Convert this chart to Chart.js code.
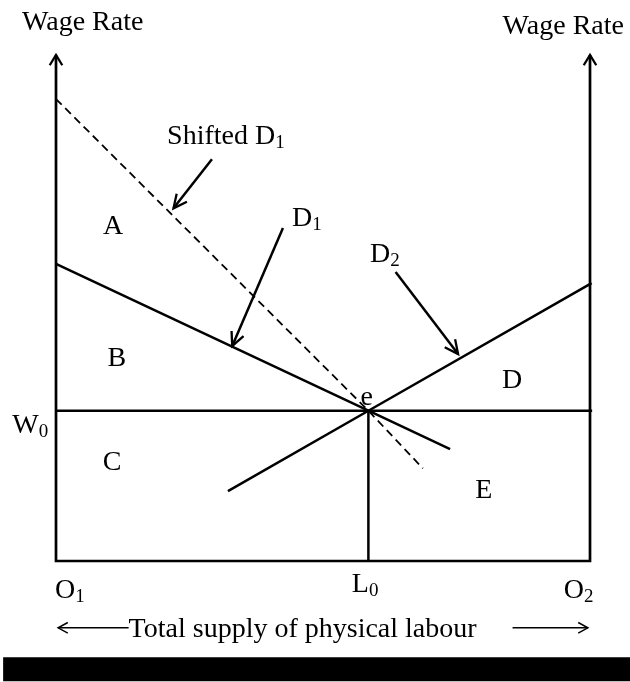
<!DOCTYPE html>
<html>
<head>
<meta charset="utf-8">
<script src="https://cdn.jsdelivr.net/npm/chart.js@4.4.1/dist/chart.umd.min.js"></script>
<style>
  html, body { margin: 0; padding: 0; background: #fff; }
  #wrap { width: 630px; height: 682px; position: relative; }
</style>
</head>
<body>
<div id="wrap"><canvas id="chart"></canvas></div>
<script>
// ============================================================================
// Two-sector labour market diagram (wage rate vs labour)
// ============================================================================

const SERIF = '"Liberation Serif", "Times New Roman", serif';

// equilibrium point e
const L0 = 58.5;
const W0 = 29.7;

// demand curves
const d1X      = [0, L0, 73.8];
const d1Y      = [58.7, W0, 22.1];
const d2X      = [32.2, L0, 100.3];
const d2Y      = [13.8, W0, 54.9];
const shiftedX = [0, L0, 68.7];
const shiftedY = [91.3, W0, 18.3];

// wage line and L0 drop line
const wageX = [0, 100.4];
const wageY = [W0, W0];
const l0X   = [L0, L0];
const l0Y   = [0, W0];

// frame: left axis, bottom, right axis
const frameX = [0, 0, 100, 100];
const frameY = [100, 0, 0, 100];

// pointer arrows (start -> tip)
const ptrShiftX = [29.2, 22.0];
const ptrShiftY = [79.4, 69.7];
const ptrD1X    = [42.5, 33.0];
const ptrD1Y    = [65.8, 42.5];
const ptrD2X    = [63.6, 75.3];
const ptrD2Y    = [57.1, 40.9];

// "total supply" arrows under the axis
const supplyLeftX  = [13.6, 0.4];
const supplyRightX = [85.5, 99.6];
const supplyY      = [-13.2, -13.2];

// rule along the bottom of the page
const ruleX = [-9.9, 108];
const ruleY = [-21.4, -21.4];

// text labels: [main, subscript, x, y, align]
const LABELS = [
  ['Wage Rate', '', 5.0, 104.9, 'center'],
  ['Wage Rate', '', 95.0, 104.1, 'center'],
  ['Shifted D', '1', 20.8, 82.4, 'left'],
  ['D', '1', 44.2, 66.3, 'left'],
  ['D', '2', 58.8, 59.0, 'left'],
  ['A', '', 10.7, 64.6, 'center'],
  ['B', '', 11.4, 38.5, 'center'],
  ['C', '', 10.5, 18.0, 'center'],
  ['D', '', 85.4, 34.2, 'center'],
  ['E', '', 80.1, 12.5, 'center'],
  ['e', '', 58.2, 30.8, 'center'],
  ['W', '0', -8.2, 25.3, 'left'],
  ['O', '1', -0.2, -7.3, 'left'],
  ['L', '0', 55.4, -6.1, 'left'],
  ['O', '2', 95.1, -7.3, 'left'],
  ['Total supply of physical labour', '', 13.6, -15.0, 'left'],
];

function pts(xs, ys) { return xs.map((x, i) => ({ x, y: ys[i] })); }

function line(xs, ys, extra = {}) {
  return {
    data: pts(xs, ys), showLine: true, borderColor: '#000', backgroundColor: '#000',
    borderWidth: 2.5, pointRadius: 0, fill: false, clip: false, tension: 0,
    ...extra,
  };
}

// ---- arrowheads -----------------------------------------------------------
function head(ctx, from, tip, len, ang, width) {
  const a = Math.atan2(tip.y - from.y, tip.x - from.x);
  ctx.beginPath();
  ctx.moveTo(tip.x - len * Math.cos(a - ang), tip.y - len * Math.sin(a - ang));
  ctx.lineTo(tip.x, tip.y);
  ctx.lineTo(tip.x - len * Math.cos(a + ang), tip.y - len * Math.sin(a + ang));
  ctx.lineWidth = width;
  ctx.strokeStyle = '#000';
  ctx.lineJoin = 'miter';
  ctx.stroke();
}

const arrowPlugin = {
  id: 'arrows',
  afterDatasetsDraw(chart) {
    const ctx = chart.ctx;
    ctx.save();
    chart.data.datasets.forEach((d, i) => {
      if (!d.arrow) return;
      const p = chart.getDatasetMeta(i).data.map(e => ({ x: e.x, y: e.y }));
      const { len, ang, width } = d.arrow;
      if (d.arrow.end) head(ctx, p[p.length - 2], p[p.length - 1], len, ang, width);
      if (d.arrow.start) head(ctx, p[1], p[0], len, ang, width);
    });
    ctx.restore();
  },
};

// ---- text labels ----------------------------------------------------------
const labelPlugin = {
  id: 'labels',
  afterDraw(chart) {
    const { ctx, scales: { x, y } } = chart;
    ctx.save();
    ctx.fillStyle = '#000';
    ctx.textBaseline = 'alphabetic';
    ctx.textAlign = 'left';
    for (const [main, sub, lx, ly, align] of LABELS) {
      ctx.font = `28px ${SERIF}`;
      const w = ctx.measureText(main).width;
      ctx.font = `19px ${SERIF}`;
      const ws = sub ? ctx.measureText(sub).width : 0;
      let px = x.getPixelForValue(lx);
      const py = y.getPixelForValue(ly);
      if (align === 'center') px -= (w + ws) / 2;
      ctx.font = `28px ${SERIF}`;
      ctx.fillText(main, px, py);
      if (sub) {
        ctx.font = `19px ${SERIF}`;
        ctx.fillText(sub, px + w, py + 4);
      }
    }
    ctx.restore();
  },
};

const axisHead = { end: true, start: true, len: 12, ang: 0.55, width: 2.3 };
const ptrHead  = { end: true, len: 15, ang: 0.45, width: 2.3 };
const thinHead = { end: true, len: 11, ang: 0.5, width: 1.5 };

new Chart(document.getElementById('chart'), {
  type: 'scatter',
  data: {
    datasets: [
      line(frameX, frameY, { borderWidth: 2.7, arrow: axisHead }),
      line(wageX, wageY),
      line(l0X, l0Y),
      line(d1X, d1Y),
      line(d2X, d2Y),
      line(shiftedX, shiftedY, { borderWidth: 1.8, borderDash: [8, 5] }),
      line(ptrShiftX, ptrShiftY, { arrow: ptrHead }),
      line(ptrD1X, ptrD1Y, { arrow: ptrHead }),
      line(ptrD2X, ptrD2Y, { arrow: ptrHead }),
      line(supplyLeftX, supplyY, { borderWidth: 1.5, arrow: thinHead }),
      line(supplyRightX, supplyY, { borderWidth: 1.5, arrow: thinHead }),
      line(ruleX, ruleY, { borderWidth: 24 }),
    ],
  },
  options: {
    animation: false,
    responsive: true,
    maintainAspectRatio: false,
    events: [],
    layout: { padding: { left: 56, right: 40, top: 55, bottom: 121 } },
    plugins: { legend: { display: false }, tooltip: { enabled: false } },
    scales: {
      x: { type: 'linear', min: 0, max: 100, display: false },
      y: { type: 'linear', min: 0, max: 100, display: false },
    },
  },
  plugins: [arrowPlugin, labelPlugin],
});
</script>
</body>
</html>
